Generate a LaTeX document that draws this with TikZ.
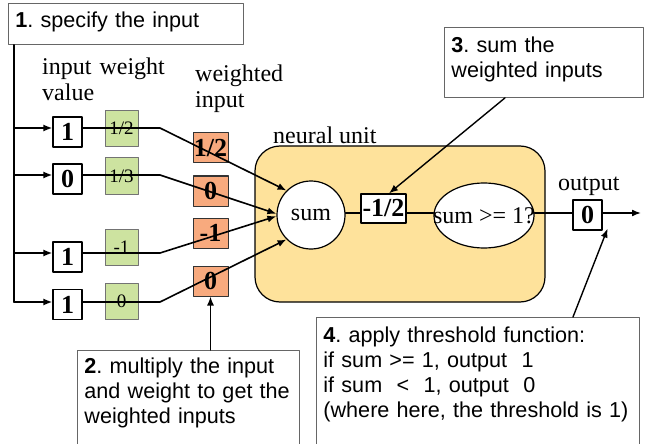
\documentclass[tikz,border=0pt]{standalone}
\usepackage{fontspec}
\setmainfont{Liberation Serif}
\newfontfamily\notefont{Liberation Sans}
\usetikzlibrary{arrows.meta,shapes.geometric}

\definecolor{wgreen}{HTML}{CDE3A0}
\definecolor{worange}{HTML}{F8AA7E}
\definecolor{uyellow}{HTML}{FEE29B}

\tikzset{
  wire/.style={line width=1.6pt},
  tip/.style={-{Latex[length=9pt,width=7pt]}},
  note/.style={draw=black!60,line width=0.9pt,fill=white,anchor=north west,
    font=\notefont\fontsize{21.6}{25}\selectfont\frenchspacing,inner xsep=7pt,inner ysep=7pt},
  label/.style={font=\fontsize{24}{25.5}\selectfont,inner sep=0pt,anchor=base west},
  inbox/.style={draw,line width=1.2pt,fill=white,minimum width=29pt,minimum height=30pt,
    inner sep=0pt,font=\bfseries\fontsize{26}{26}\selectfont},
  wbox/.style={draw=black!55,line width=1pt,fill=wgreen,minimum width=33pt,minimum height=36pt,
    inner sep=0pt,font=\fontsize{19}{19}\selectfont},
  prodbox/.style={draw=black!80,line width=1pt,fill=worange,minimum width=35pt,minimum height=30pt,
    inner sep=0pt,font=\bfseries\fontsize{26}{26}\selectfont},
}

\begin{document}
\begin{tikzpicture}[x=1pt,y=-1pt,line cap=round,line join=round]
\clip (0,0) rectangle (649,444);

% neural unit in the back
\node[draw,line width=1.2pt,fill=uyellow,rounded corners=25pt,minimum width=290pt,
  minimum height=156pt] (unit) at (400,224) {};
\node[label] (unitname) at (273,143) {neural unit};

% callouts
\node[note,text width=221pt,text height=17pt,text depth=10pt] (note1) at (8,3)
  {\textbf{1}. specify the input};
\node[note,text width=185pt,text height=18pt,text depth=38pt] (note3) at (444,27)
  {\textbf{3}. sum the\\weighted inputs};
\node[note,text width=208pt,text height=16pt,text depth=70pt] (note2) at (77,350)
  {\textbf{2}. multiply the input\\and weight to get the\\weighted inputs};
\node[note,text width=309pt,text height=18pt,text depth=101pt] (note4) at (316,317)
  {\textbf{4}. apply threshold function:\\if sum >= 1, output~~1\\if sum~~<~~1, output~~0\\(where here, the threshold is 1)};

% column headings
\node[label,text width=130pt] (headin) at (42,75) {input weight\\value};
\node[label,text width=90pt,font=\fontsize{24}{26}\selectfont] (headw) at (195,82) {weighted\\input};
\node[label] (headout) at (558,190) {output};

% input values
\node[inbox] (in1) at (67.5,132) {1};
\node[inbox] (in2) at (67.5,179) {0};
\node[inbox] (in3) at (67.5,257) {1};
\node[inbox] (in4) at (67.5,304.5) {1};

% weights
\node[wbox] (w1) at (121.5,128.5) {1/2};
\node[wbox] (w2) at (121.5,176) {1/3};
\node[wbox] (w3) at (121.5,247.5) {-1};
\node[wbox] (w4) at (121.5,301.5) {0};

% weighted inputs
\node[prodbox] (p1) at (210.5,148) {1/2};
\node[prodbox] (p2) at (210.5,191) {0};
\node[prodbox] (p3) at (210.5,233) {-1};
\node[prodbox] (p4) at (210.5,281) {0};

% inside the unit
\node[draw,line width=1.2pt,fill=white,circle,minimum size=68pt,inner sep=0pt,
  font=\fontsize{24}{24}\selectfont] (sum) at (311,215) {sum};
\node[draw,line width=1.2pt,fill=white,minimum width=45pt,minimum height=29pt,inner sep=0pt,
  font=\bfseries\fontsize{26}{26}\selectfont] (half) at (383.5,208.5) {-1/2};
\node[draw,line width=1.2pt,fill=white,ellipse,minimum width=100pt,minimum height=65pt,
  inner sep=0pt,font=\fontsize{24}{24}\selectfont] (test) at (484,215.5) {\makebox[0pt]{sum >= 1?}};
\node[inbox] (out) at (587.5,215) {0};

\coordinate (r1) at (14,128);
\coordinate (r2) at (14,175);
\coordinate (r3) at (14,253);
\coordinate (r4) at (14,302);
\coordinate (k1) at (160,128);
\coordinate (k2) at (160,175);
\coordinate (k3) at (160,253);
\coordinate (k4) at (160,302);
\coordinate (axis) at (0,213);
\coordinate (end) at (641,213);

% feeding the inputs
\draw[wire] ([xshift=6pt]note1.south west) -- (r4);
\draw[wire,tip] (r1) -- (r1 -| in1.west);
\draw[wire,tip] (r2) -- (r2 -| in2.west);
\draw[wire,tip] (r3) -- (r3 -| in3.west);
\draw[wire,tip] (r4) -- (r4 -| in4.west);

% weighted lines into the sum
\draw[wire,tip] (r1 -| in1.east) -- (k1) -- (sum.135);
\draw[wire,tip] (r2 -| in2.east) -- (k2) -- (sum.178);
\draw[wire,tip] (r3 -| in3.east) -- (k3) -- (sum.182);
\draw[wire,tip] (r4 -| in4.east) -- (k4) -- (sum.225);

% sum -> threshold -> output
\draw[wire] (sum.east |- axis) -- (half.west |- axis);
\draw[wire] (half.east |- axis) -- (test.west |- axis);
\draw[wire] (test.east |- axis) -- (out.west |- axis);
\draw[wire,tip] (out.east |- axis) -- (end);

% callout pointers
\draw[line width=1.4pt,tip] ([xshift=61pt]note3.south west) -- (half.70);
\draw[line width=1.4pt,tip] (p4.south |- note2.north) -- (p4.south);
\draw[line width=1.4pt,tip] ([xshift=257pt]note4.north west) -- ([xshift=5pt,yshift=2pt]out.south east);
\end{tikzpicture}
\end{document}
